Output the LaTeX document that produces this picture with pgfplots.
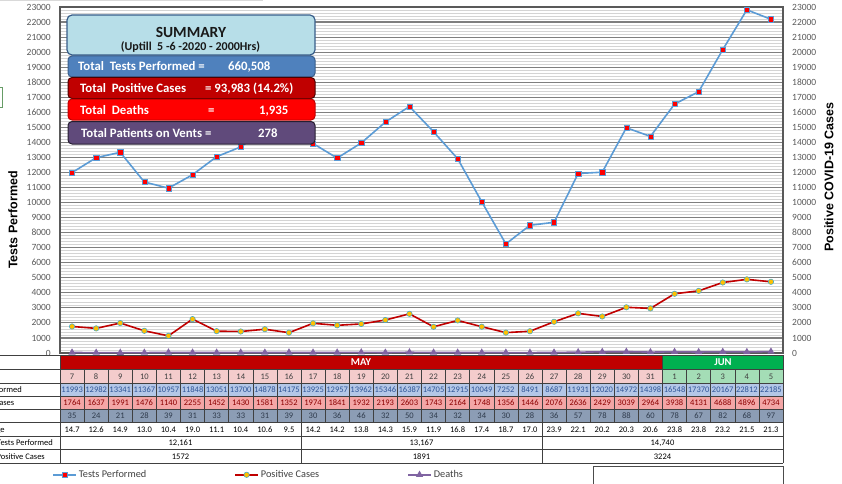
\documentclass[border=0pt]{standalone}
\usepackage{pgfplots}
\pgfplotsset{compat=1.18}
\usepackage{pgfplotstable}
\usepackage{fontspec}
\setmainfont{Carlito}
\newfontfamily\arialfont{Liberation Sans}

\definecolor{tline}{HTML}{5B9BD5}
\definecolor{pline}{HTML}{C00000}
\definecolor{pmark}{HTML}{FFC000}
\definecolor{pmarkd}{HTML}{4BACC6}
\definecolor{dline}{HTML}{8064A2}
\definecolor{gridmaj}{HTML}{7F7F7F}
\definecolor{gridmin}{HTML}{D4D4D4}
\definecolor{axisc}{HTML}{595959}
\definecolor{ticktxt}{HTML}{595959}
\definecolor{mayred}{HTML}{C00000}
\definecolor{jungreen}{HTML}{00B050}
\definecolor{datemay}{HTML}{F4CCCC}
\definecolor{datejun}{HTML}{A4DDB6}
\definecolor{testbg}{HTML}{B4C7E7}
\definecolor{testtxt}{HTML}{2F5597}
\definecolor{posbg}{HTML}{F4A6A6}
\definecolor{postxt}{HTML}{8B0000}
\definecolor{deathbg}{HTML}{8C9DB5}
\definecolor{deathtxt}{HTML}{2F3B4C}
\definecolor{sumblue}{HTML}{B7DEE8}
\definecolor{sumborder}{HTML}{385D8A}
\definecolor{boxb}{HTML}{4F81BD}
\definecolor{boxc}{HTML}{C00000}
\definecolor{boxd}{HTML}{FF0000}
\definecolor{boxe}{HTML}{604A7B}

\pgfplotstableread{
x tests pos deaths
0 11993 1764 35
1 12982 1637 24
2 13341 1991 21
3 11367 1476 28
4 10957 1140 39
5 11848 2255 31
6 13051 1452 33
7 13700 1430 33
8 14878 1581 31
9 14175 1352 39
10 13925 1974 30
11 12957 1841 36
12 13962 1932 46
13 15346 2193 32
14 16387 2603 50
15 14705 1743 34
16 12915 2164 32
17 10049 1748 34
18 7252 1356 30
19 8491 1446 28
20 8687 2076 36
21 11931 2636 57
22 12020 2429 78
23 14972 3039 88
24 14398 2964 60
25 16548 3938 78
26 17370 4131 67
27 20167 4688 82
28 22812 4896 68
29 22185 4734 97
}\data

\begin{document}
\begin{tikzpicture}
\path[use as bounding box] (0,0) rectangle (842pt,483pt);

\begin{axis}[
  at={(60pt,130pt)}, anchor=south west,
  scale only axis, width=723pt, height=346pt,
  xmin=-0.5, xmax=29.5, ymin=0, ymax=23000,
  xtick=\empty,
  ytick distance=1000,
  minor y tick num=4,
  ymajorgrids, yminorgrids,
  major grid style={draw=gridmaj, line width=1.1pt},
  minor grid style={draw=gridmin, line width=0.7pt},
  major tick length=0pt, minor tick length=0pt,
  axis line style={draw=axisc, line width=1.2pt},
  scaled y ticks=false,
  /pgf/number format/.cd, 1000 sep={}, assume math mode=true,
  /pgfplots/.cd,
  yticklabel style={font=\fontsize{9.5}{10}\selectfont, text=ticktxt, inner xsep=0pt, xshift=-9pt},
  legend style={at={(-0.011,-0.352)}, anchor=west, draw=none, fill=none,
    inner xsep=0pt, font=\fontsize{10.3}{11}\selectfont, text=black!75,
    legend columns=3,
    /tikz/every even column/.append style={column sep=86pt}},
  legend image code/.code={\draw[mark repeat=2,mark phase=2,#1] plot coordinates {(0pt,0pt) (11.5pt,0pt) (23pt,0pt)};},
]
\addplot[color=tline, line width=1.6pt, mark=square*, mark size=2.6pt,
  mark options={fill=red, draw=tline, line width=0.5pt}] table[x=x,y=tests] {\data};
\addlegendentry{Tests Performed}
\addplot[color=pline, line width=1.6pt, mark=*, mark size=2.7pt,
  mark options={fill=pmark, draw=pmarkd, line width=0.6pt}] table[x=x,y=pos] {\data};
\addlegendentry{Positive Cases}
\addplot[color=dline, line width=1.6pt, mark=triangle*, mark size=2.6pt,
  mark options={fill=dline, draw=dline}] table[x=x,y=deaths] {\data};
\addlegendentry{Deaths}
\end{axis}

\begin{axis}[
  at={(60pt,130pt)}, anchor=south west,
  scale only axis, width=723pt, height=346pt,
  xmin=-0.5, xmax=29.5, ymin=0, ymax=23000,
  axis x line=none, axis y line*=right,
  ytick distance=1000,
  major tick length=0pt,
  axis line style={draw=axisc, line width=1.2pt},
  scaled y ticks=false,
  /pgf/number format/.cd, 1000 sep={}, assume math mode=true,
  /pgfplots/.cd,
  yticklabel style={font=\fontsize{9.5}{10}\selectfont, text=ticktxt, inner xsep=0pt, xshift=9pt},
]
\addplot[draw=none] coordinates {(0,0)};
\end{axis}

% axis labels
\node[rotate=90, font=\arialfont\bfseries\fontsize{12.5}{13}\selectfont] at (13pt,263pt) {Tests Performed};
\node[rotate=90, font=\arialfont\bfseries\fontsize{12.5}{13}\selectfont] at (829pt,306pt) {Positive COVID-19 Cases};

% summary boxes
\draw[rounded corners=5pt, fill=sumblue, draw=sumborder, line width=1.2pt] (67pt,428pt) rectangle (315pt,468pt);
\node[font=\bfseries\fontsize{15.5}{16}\selectfont, text=black!90] at (191pt,451pt) {SUMMARY};
\node[font=\bfseries\fontsize{12}{13}\selectfont, text=black!90] at (190.5pt,436pt) {(Uptill\ \ 5 -6 -2020 - 2000Hrs)};

\draw[rounded corners=4pt, fill=boxb, draw=sumborder, line width=1pt] (68pt,406pt) rectangle (315pt,427pt);
\draw[rounded corners=4pt, fill=boxc, draw=black!60!boxc, line width=1pt] (68pt,384.5pt) rectangle (315pt,405.5pt);
\draw[rounded corners=4pt, fill=boxd, draw=boxc, line width=1pt] (68pt,363pt) rectangle (315pt,384pt);
\draw[rounded corners=4pt, fill=boxe, draw=black!60!boxe, line width=1pt] (68pt,339pt) rectangle (315pt,361.5pt);
\begin{scope}[every node/.style={font=\bfseries\fontsize{12.8}{14}\selectfont, text=white, anchor=base west, inner sep=0pt}]
\node at (78pt,412pt) {Total\ \ Tests Performed =};
\node at (228pt,412pt) {660,508};
\node at (80pt,390.5pt) {Total\ \ Positive Cases};
\node at (205pt,390.5pt) {= 93,983 (14.2\%)};
\node at (80pt,369pt) {Total\ \ Deaths};
\node at (208pt,369pt) {=};
\node at (259pt,369pt) {1,935};
\node at (81pt,345.5pt) {Total Patients on Vents =};
\node at (258pt,345.5pt) {278};
\end{scope}

% table fills
\fill[mayred] (60pt,114pt) rectangle (662.5pt,128pt);
\fill[jungreen] (662.5pt,114pt) rectangle (783pt,128pt);
\fill[datemay] (60pt,100pt) rectangle (662.5pt,114pt);
\fill[datejun] (662.5pt,100pt) rectangle (783pt,114pt);
\fill[testbg] (60pt,87pt) rectangle (783pt,100pt);
\fill[posbg] (60pt,74pt) rectangle (783pt,87pt);
\fill[deathbg] (60pt,60.5pt) rectangle (783pt,74pt);

% table lines
\foreach \yy in {128,114,100,87,74,60.5,47,33.5,20}
  \draw[black!75, line width=0.6pt] (0pt,\yy pt) -- (783pt,\yy pt);
\foreach \i in {0,...,30}
  \draw[black!75, line width=0.6pt] (60pt+\i*24.1pt,60.5pt) -- (60pt+\i*24.1pt,114pt);
\foreach \xx in {60,662.5,783}
  \draw[black!75, line width=0.8pt] (\xx pt,114pt) -- (\xx pt,128pt);
\foreach \xx in {60,301,542,783}
  \draw[black!75, line width=0.8pt] (\xx pt,20pt) -- (\xx pt,60.5pt);

\node[font=\bfseries\fontsize{10.5}{11}\selectfont, text=white] at (361pt,121pt) {MAY};
\node[font=\bfseries\fontsize{10.5}{11}\selectfont, text=white] at (723pt,121pt) {JUN};

\begin{scope}[every node/.style={font=\fontsize{8.5}{9}\selectfont, inner sep=0pt, anchor=base}]
\foreach \v [count=\i] in {7,8,9,10,11,12,13,14,15,16,17,18,19,20,21,22,23,24,25,26,27,28,29,30,31,1,2,3,4,5}
  \node[text=black!75] at ({60pt+(\i-0.5)*24.1pt},104pt) {\v};
\foreach \v [count=\i] in {11993,12982,13341,11367,10957,11848,13051,13700,14878,14175,13925,12957,13962,15346,16387,14705,12915,10049,7252,8491,8687,11931,12020,14972,14398,16548,17370,20167,22812,22185}
  \node[text=testtxt] at ({60pt+(\i-0.5)*24.1pt},90.5pt) {\v};
\foreach \v [count=\i] in {1764,1637,1991,1476,1140,2255,1452,1430,1581,1352,1974,1841,1932,2193,2603,1743,2164,1748,1356,1446,2076,2636,2429,3039,2964,3938,4131,4688,4896,4734}
  \node[text=postxt] at ({60pt+(\i-0.5)*24.1pt},77.5pt) {\v};
\foreach \v [count=\i] in {35,24,21,28,39,31,33,33,31,39,30,36,46,32,50,34,32,34,30,28,36,57,78,88,60,78,67,82,68,97}
  \node[text=deathtxt] at ({60pt+(\i-0.5)*24.1pt},64.25pt) {\v};
\foreach \v [count=\i] in {14.7,12.6,14.9,13.0,10.4,19.0,11.1,10.4,10.6,9.5,14.2,14.2,13.8,14.3,15.9,11.9,16.8,17.4,18.7,17.0,23.9,22.1,20.2,20.3,20.6,23.8,23.8,23.2,21.5,21.3}
  \node[text=black] at ({60pt+(\i-0.5)*24.1pt},50.75pt) {\v};
\node at (180.5pt,37.25pt) {12,161};
\node at (421.5pt,37.25pt) {13,167};
\node at (662.5pt,37.25pt) {14,740};
\node at (180.5pt,23.75pt) {1572};
\node at (421.5pt,23.75pt) {1891};
\node at (662.5pt,23.75pt) {3224};
\end{scope}

% row labels, cut off at the left edge as in the reference
\begin{scope}
\clip (0pt,0pt) rectangle (59pt,483pt);
\begin{scope}[every node/.style={font=\fontsize{8.5}{9}\selectfont, inner sep=0pt}]
\node[anchor=base west] at (-34pt,90.5pt) {Tests Performed};
\node[anchor=base west] at (-34pt,77.5pt) {Positive Cases};
\node[anchor=base west] at (-34pt,64.25pt) {Deaths};
\node[anchor=base west] at (-34pt,50.75pt) {Percentage};
\node[anchor=base east] at (53pt,37.25pt) {Average Tests Performed};
\node[anchor=base east] at (45pt,23.75pt) {Average Positive Cases};
\end{scope}
\end{scope}

% small fragments
\draw[black!15, line width=0.8pt] (0pt,482.6pt) -- (263pt,482.6pt);
\draw[green!35!black!60, line width=0.8pt] (-2pt,376pt) rectangle (2pt,396pt);
\draw[black!70, line width=0.8pt] (593pt,-2pt) rectangle (783pt,17pt);
\end{tikzpicture}
\end{document}
